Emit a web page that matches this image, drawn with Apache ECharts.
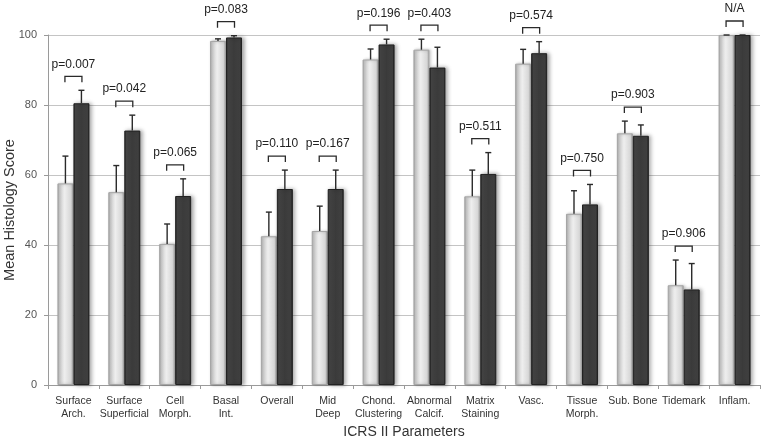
<!DOCTYPE html>
<html>
<head>
<meta charset="utf-8">
<script src="https://cdn.jsdelivr.net/npm/echarts@6/dist/echarts.min.js"></script>
<style>html,body{margin:0;padding:0;background:#fff}#c{width:764px;height:441px}</style>
</head>
<body>
<div id="c"></div>
<script>
const categories = ['Surface\nArch.', 'Surface\nSuperficial', 'Cell\nMorph.', 'Basal\nInt.', 'Overall', 'Mid\nDeep', 'Chond.\nClustering', 'Abnormal\nCalcif.', 'Matrix\nStaining', 'Vasc.', 'Tissue\nMorph.', 'Sub. Bone', 'Tidemark', 'Inflam.'];
const lightValues = [57.6, 55.1, 40.3, 98.3, 42.5, 44.0, 93.0, 95.8, 53.9, 91.8, 48.9, 71.9, 28.5, 100];
const lightUpper  = [65.4, 62.7, 46.0, 98.9, 49.4, 51.1, 96.0, 98.8, 61.4, 95.9, 55.5, 75.4, 35.7, 100];
const darkValues  = [80.5, 72.7, 54.0, 99.3, 56.0, 56.0, 97.3, 90.7, 60.3, 94.8, 51.6, 71.2, 27.3, 100];
const darkUpper   = [84.2, 77.1, 58.9, 99.8, 61.4, 61.4, 98.8, 96.5, 66.4, 98.1, 57.3, 74.3, 34.7, 100];
const pLabels = ['p=0.007', 'p=0.042', 'p=0.065', 'p=0.083', 'p=0.110', 'p=0.167', 'p=0.196', 'p=0.403', 'p=0.511', 'p=0.574', 'p=0.750', 'p=0.903', 'p=0.906', 'N/A'];
const yTicks = [0, 20, 40, 60, 80, 100];

const BAR_W = 16;
const HALF = BAR_W / 2;

const chart = echarts.init(document.getElementById('c'), null, {renderer: 'canvas'});

const errData = [];
categories.forEach((c, i) => {
  errData.push([i, lightValues[i], lightUpper[i], -1]);
  errData.push([i, darkValues[i], darkUpper[i], 1]);
});
const bracketData = categories.map((c, i) => [i, Math.max(lightUpper[i], darkUpper[i]) + 4, pLabels[i]]);

const lightGrad = new echarts.graphic.LinearGradient(0, 0, 1, 0, [
  {offset: 0, color: '#9a9a9a'},
  {offset: 0.12, color: '#cfcfcf'},
  {offset: 0.45, color: '#eeeeee'},
  {offset: 0.85, color: '#d6d6d6'},
  {offset: 1, color: '#a0a0a0'}
]);
const darkGrad = new echarts.graphic.LinearGradient(0, 0, 1, 0, [
  {offset: 0, color: '#1c1c1c'},
  {offset: 0.12, color: '#474747'},
  {offset: 0.5, color: '#3b3b3b'},
  {offset: 0.88, color: '#404040'},
  {offset: 1, color: '#161616'}
]);

const option = {
  animation: false,
  backgroundColor: '#ffffff',
  grid: {left: 48, right: 4, top: 35, bottom: 56, containLabel: false, outerBoundsMode: 'none'},
  xAxis: {
    type: 'category',
    data: categories,
    name: 'ICRS II Parameters',
    nameLocation: 'middle',
    nameGap: 40,
    nameMoveOverlap: false,
    nameTextStyle: {fontFamily: 'Liberation Sans, Arial, sans-serif', fontSize: 14, color: '#333'},
    axisLine: {lineStyle: {color: '#9a9a9a', width: 1}},
    axisTick: {show: true, length: 4, alignWithLabel: false, lineStyle: {color: '#9a9a9a'}},
    axisLabel: {interval: 0, margin: 10, fontFamily: 'Liberation Sans, Arial, sans-serif', fontSize: 10.5, lineHeight: 13, color: '#333'},
    splitLine: {show: false}
  },
  yAxis: {
    type: 'value',
    min: 0, max: 100, interval: 20,
    name: 'Mean Histology Score',
    nameLocation: 'middle',
    nameGap: 31,
    nameRotate: 90,
    nameMoveOverlap: false,
    nameTextStyle: {fontFamily: 'Liberation Sans, Arial, sans-serif', fontSize: 14.5, color: '#333'},
    axisLine: {show: true, lineStyle: {color: '#9a9a9a', width: 1}},
    axisTick: {show: true, length: 4, lineStyle: {color: '#9a9a9a'}},
    axisLabel: {margin: 11, fontFamily: 'Liberation Sans, Arial, sans-serif', fontSize: 11, color: '#555',
      formatter: v => yTicks.indexOf(v) >= 0 ? String(v) : ''},
    splitLine: {show: true, lineStyle: {color: '#c4c4c4', width: 1}}
  },
  series: [
    {
      type: 'bar', name: 'A', data: lightValues, barWidth: BAR_W, barGap: '0%',
      itemStyle: {color: lightGrad, borderColor: '#a6a6a6', borderWidth: 1,
        shadowColor: 'rgba(0,0,0,0.25)', shadowBlur: 3, shadowOffsetX: 1.5}
    },
    {
      type: 'bar', name: 'B', data: darkValues, barWidth: BAR_W, barGap: '0%',
      itemStyle: {color: darkGrad, borderColor: '#222', borderWidth: 1,
        shadowColor: 'rgba(0,0,0,0.35)', shadowBlur: 4, shadowOffsetX: 2}
    },
    {
      type: 'custom', name: 'err', data: errData, z: 5, clip: false,
      renderItem: function (params, api) {
        const i = api.value(0);
        const base = api.coord([i, api.value(1)]);
        const top = api.coord([i, api.value(2)]);
        const x = base[0] + api.value(3) * HALF;
        const style = {stroke: '#2a2a2a', lineWidth: 1.4};
        return {type: 'group', children: [
          {type: 'line', shape: {x1: x, y1: base[1], x2: x, y2: top[1]}, style: style},
          {type: 'line', shape: {x1: x - 3, y1: top[1], x2: x + 3, y2: top[1]}, style: style}
        ]};
      }
    },
    {
      type: 'custom', name: 'brackets', data: bracketData, z: 6, clip: false,
      renderItem: function (params, api) {
        const i = api.value(0);
        const p = api.coord([i, api.value(1)]);
        const x1 = p[0] - HALF - 0.5, x2 = p[0] + HALF + 0.5, y = p[1];
        return {type: 'group', children: [
          {type: 'polyline', shape: {points: [[x1, y + 6], [x1, y], [x2, y], [x2, y + 6]]},
            style: {stroke: '#2a2a2a', lineWidth: 1.3, fill: null}},
          {type: 'text', style: {x: p[0], y: y - 6, text: bracketData[params.dataIndex][2],
            textAlign: 'center', textVerticalAlign: 'bottom',
            font: '12px "Liberation Sans", Arial, sans-serif', fill: '#222'}}
        ]};
      }
    }
  ]
};
chart.setOption(option);
</script>
</body>
</html>
